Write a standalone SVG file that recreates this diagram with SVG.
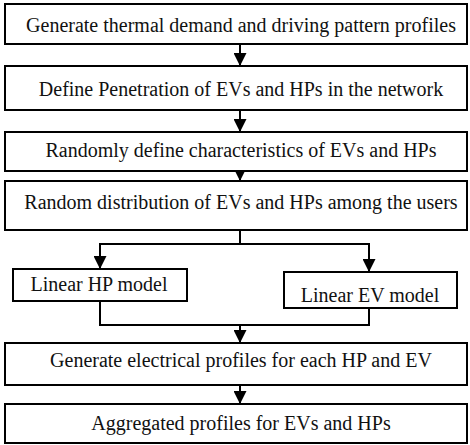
<svg xmlns="http://www.w3.org/2000/svg" width="470" height="445" viewBox="0 0 470 445">
<defs>
<style>
.box{fill:#fff;stroke:#000;stroke-width:2}
.t{font-family:"Liberation Serif","Times New Roman",serif;font-size:20px;fill:#111;text-anchor:middle}
.c{fill:none;stroke:#000;stroke-width:2}
</style>
<marker id="ah" markerWidth="13" markerHeight="13" refX="12" refY="6.5" orient="auto" markerUnits="userSpaceOnUse">
<path d="M0,0 L13,6.5 L0,13 Z" fill="#000"/>
</marker>
</defs>
<rect width="470" height="445" fill="#fff"/>
<g id="connectors">
<line class="c" x1="240" y1="44" x2="240" y2="65" marker-end="url(#ah)"/>
<line class="c" x1="240" y1="110" x2="240" y2="131" marker-end="url(#ah)"/>
<line class="c" x1="240" y1="171" x2="240" y2="180" marker-end="url(#ah)"/>
<polyline class="c" points="240,230 240,244 100,244 100,268" marker-end="url(#ah)"/>
<polyline class="c" points="240,244 369,244 369,271" marker-end="url(#ah)"/>
<polyline class="c" points="100,301 100,325 369,325 369,308"/>
<line class="c" x1="240" y1="325" x2="240" y2="342" marker-end="url(#ah)"/>
<line class="c" x1="240" y1="385" x2="240" y2="403" marker-end="url(#ah)"/>
</g>
<g id="n1"><rect class="box" x="5" y="4" width="462" height="40"/><text class="t" x="241" y="32">Generate thermal demand and driving pattern profiles</text></g>
<g id="n2"><rect class="box" x="5" y="66" width="462" height="44"/><text class="t" x="241" y="96">Define Penetration of EVs and HPs in the network</text></g>
<g id="n3"><rect class="box" x="5" y="132" width="462" height="39"/><text class="t" x="241" y="157">Randomly define characteristics of EVs and HPs</text></g>
<g id="n4"><rect class="box" x="5" y="181" width="462" height="49"/><text class="t" x="241" y="209">Random distribution of EVs and HPs among the users</text></g>
<g id="n5"><rect class="box" x="13" y="269" width="174" height="32"/><text class="t" x="99" y="291">Linear HP model</text></g>
<g id="n6"><rect class="box" x="284" y="272" width="173" height="36"/><text class="t" x="370" y="302">Linear EV model</text></g>
<g id="n7"><rect class="box" x="5" y="343" width="462" height="42"/><text class="t" x="241" y="367">Generate electrical profiles for each HP and EV</text></g>
<g id="n8"><rect class="box" x="5" y="404" width="462" height="39"/><text class="t" x="241" y="430">Aggregated profiles for EVs and HPs</text></g>
</svg>
